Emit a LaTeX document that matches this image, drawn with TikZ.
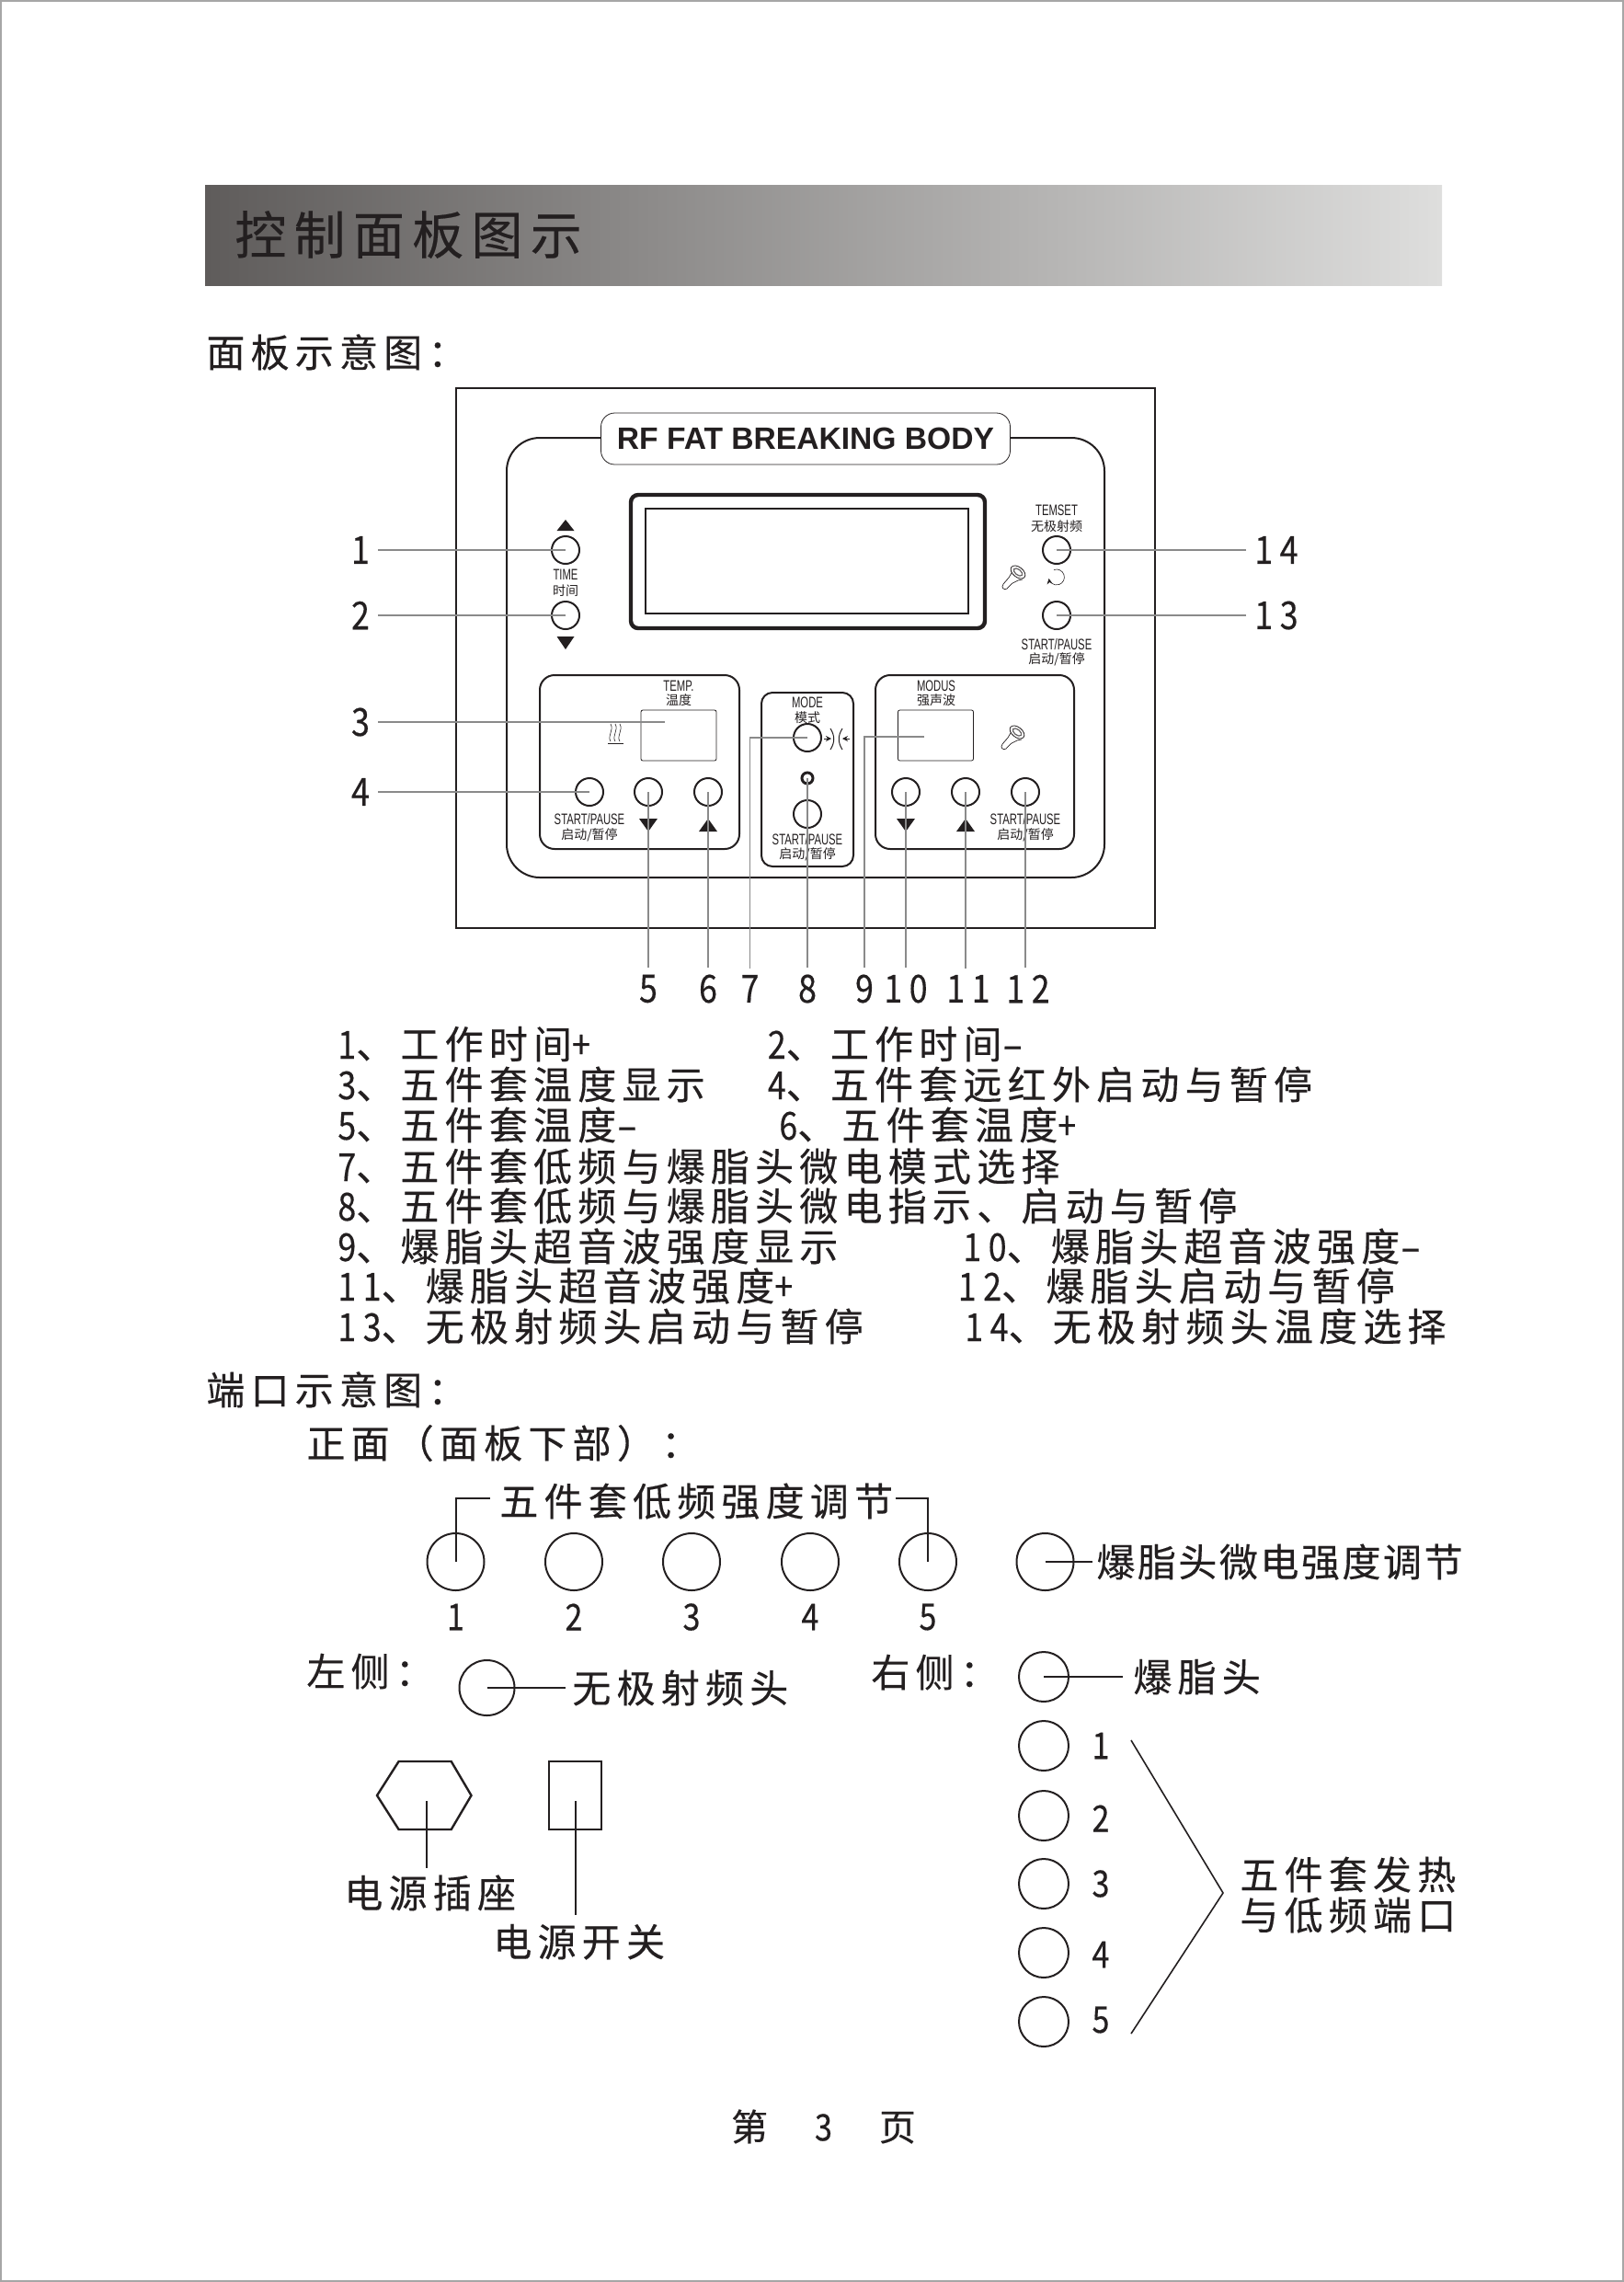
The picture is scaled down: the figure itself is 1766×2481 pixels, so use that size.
\documentclass[tikz,border=0pt]{standalone}
\usepackage{fontspec}
\usetikzlibrary{arrows.meta}
\setmainfont{Noto Sans CJK SC}
\newfontfamily\wide[LetterSpace=14.8,FakeBold=0.35]{Noto Sans CJK SC}
\newfontfamily\numfont[FakeStretch=0.85,LetterSpace=18,FakeBold=0.35]{Noto Sans CJK SC}
\newfontfamily\signfont[FakeStretch=1.6,FakeBold=0.35]{Noto Sans CJK SC}
\newfontfamily\narrow[FakeStretch=0.68]{Liberation Sans}
\newfontfamily\logofont{Liberation Sans}
\newcommand{\nr}[1]{{\numfont #1}}
\newcommand{\dsh}{{\signfont -}}
\definecolor{ink}{HTML}{231F20}
\definecolor{leader}{HTML}{8A8A8A}
\definecolor{barl}{HTML}{5F5C5B}
\definecolor{barr}{HTML}{DEDEDD}
\tikzset{
  btn/.style={draw,circle,line width=1pt,minimum size=15pt,inner sep=0pt},
  led/.style={draw,circle,line width=1.5pt,minimum size=6pt,inner sep=0pt},
  lcd/.style={draw,rectangle,rounded corners=1pt,line width=.4pt,minimum width=41pt,minimum height=27.5pt,inner sep=0pt},
  port/.style={draw,circle,line width=1pt,minimum size=31pt,inner sep=0pt},
  listtxt/.style={anchor=west,inner sep=0pt,text height=16pt,text depth=0pt,font=\wide\fontsize{21}{23}\selectfont},
  tighttxt/.style={listtxt,font=\wide\addfontfeature{LetterSpace=6}\fontsize{21}{23}\selectfont},
  numlab/.style={inner xsep=4.5pt,inner ysep=3.5pt,font=\numfont\fontsize{21}{23}\selectfont},
  smallnum/.style={inner sep=0pt,font=\numfont\fontsize{20}{22}\selectfont},
  latlab/.style={inner sep=0pt,font=\narrow\fontsize{8.3}{9}\selectfont},
  hanlab/.style={inner sep=0pt,font=\fontsize{7}{8}\selectfont},
  lead/.style={draw=leader,line width=.6pt},
  conn/.style={line width=1pt},
  icon/.style={line width=.3pt},
  wavetip/.style={icon,-{Stealth[length=3pt,width=3pt]}},
  probe/.pic={
    \draw[line width=.35pt] (0,-10) .. controls (-1,-5) and (-3,-2) .. (-5,1) -- (-11,8) .. controls (-14,12) and (-10,15) .. (-7,13) .. controls (-4,10) and (-2,7) .. (1,6) .. controls (4,4) and (7,3) .. (10,3);
    \draw[line width=.4pt,fill=white,rotate around={-38:(5,-5)}] (5,-5) ellipse (9 and 5.5);
    \draw[line width=.6pt,color=ink!70,rotate around={-38:(5,-5)}] (5,-5) ellipse (5.5 and 3);
  },
}
\begin{document}
\begin{tikzpicture}[x=0.5pt,y=-0.5pt,color=ink]
\useasboundingbox (0,0) rectangle (1766,2481);
\draw[color=gray!70,line width=1pt] (1,1) rectangle (1765,2480);
\shade[left color=barl,right color=barr] (223,201) rectangle (1568,310);
\node[anchor=west,inner sep=0pt,text height=21.3pt,text depth=0pt,font=\wide\fontsize{28}{30}\selectfont] (head) at (255,255) {控制面板图示};
\node[listtxt] (sec1) at (224,383) {面板示意图：};

\draw[line width=1.25pt] (496,422) rectangle (1256,1009);
\draw[line width=1pt,rounded corners=18pt] (551,476) rectangle (1201,954);
\node[draw,fill=white,rectangle,rounded corners=7.5pt,line width=.4pt,minimum width=222.5pt,minimum height=28pt,inner sep=0pt,font=\logofont\bfseries\fontsize{16.8}{18}\selectfont] (logo) at (876,477) {RF FAT BREAKING BODY};
\draw[line width=2.2pt,rounded corners=4pt] (686,538) rectangle (1071,683);
\draw[line width=.9pt] (702,553) rectangle (1053,667);

\node[btn] (b1) at (615,598) {};
\node[btn] (b2) at (615,669) {};
\fill (615,565) -- (605.5,577) -- (624.5,577) -- cycle;
\fill (615,706) -- (605.5,692) -- (624.5,692) -- cycle;
\node[latlab] (ltime) at (615,625) {TIME};
\node[hanlab] (htime) at (615,642) {时间};
\node[btn] (b14) at (1149,598) {};
\node[btn] (b13) at (1149,669) {};
\node[latlab] (ltem) at (1149,555) {TEMSET};
\node[hanlab] (htem) at (1149,572) {无极射频};
\node[latlab] (lsp13) at (1149,701) {START/PAUSE};
\node[hanlab] (hsp13) at (1149,717) {启动/暂停};
\draw[wavetip] (1146,619.5) arc (-110:170:8.5);
\pic at (1102,627) {probe};
\pic at (1101,801) {probe};

\draw[line width=1pt,rounded corners=8pt] (587,734) rectangle (804,923);
\node[lcd] (s3) at (738,799.5) {};
\node[latlab] (ltemp) at (738,746) {TEMP.};
\node[hanlab] (htemp) at (738,761) {温度};
\node[btn] (b4) at (641,861) {};
\node[btn] (b5) at (705,861) {};
\node[btn] (b6) at (770,861) {};
\node[latlab] (lsp4) at (641,891) {START/PAUSE};
\node[hanlab] (hsp4) at (641,908) {启动/暂停};
\fill (705,904) -- (695,890) -- (715,890) -- cycle;
\fill (770,890) -- (760,904) -- (780,904) -- cycle;
\draw[icon] (661,808) -- (678,808);
\draw[icon] (664,806) .. controls (660,800) and (668,794) .. (664,787);
\draw[icon] (669,806) .. controls (665,800) and (673,794) .. (669,787);
\draw[icon] (674,806) .. controls (670,800) and (678,794) .. (674,787);

\draw[line width=1pt,rounded corners=6pt] (828,753) rectangle (928,942);
\node[latlab] (lmode) at (878,764) {MODE};
\node[hanlab] (hmode) at (878,780) {模式};
\node[btn] (b7) at (878,802) {};
\node[led] (b8) at (878,846) {};
\node[btn] (b8b) at (878,885) {};
\node[latlab] (lsp8) at (878,913) {START/PAUSE};
\node[hanlab] (hsp8) at (878,929) {启动/暂停};
\draw[line width=.5pt] (903,792) .. controls (908,800) and (908,807) .. (903,815);
\draw[line width=.5pt] (916,792) .. controls (911,800) and (911,807) .. (916,815);
\draw[wavetip] (896,803) -- (904,803);
\draw[wavetip] (924,803) -- (916,803);

\draw[line width=1pt,rounded corners=8pt] (952,734) rectangle (1168,923);
\node[lcd] (s9) at (1017.5,799.5) {};
\node[latlab] (lmod) at (1018,746) {MODUS};
\node[hanlab] (hmod) at (1018,761) {强声波};
\node[btn] (b10) at (985,861) {};
\node[btn] (b11) at (1050,861) {};
\node[btn] (b12) at (1115,861) {};
\node[latlab] (lsp12) at (1115,891) {START/PAUSE};
\node[hanlab] (hsp12) at (1115,908) {启动/暂停};
\fill (985,904) -- (975,890) -- (995,890) -- cycle;
\fill (1050,890) -- (1040,904) -- (1060,904) -- cycle;

\node[numlab] (n1) at (392,598) {1};
\node[numlab] (n2) at (392,669) {2};
\node[numlab] (n3) at (392,785) {3};
\node[numlab] (n4) at (392,861) {4};
\node[numlab] (n14) at (1388,598) {14};
\node[numlab] (n13) at (1388,669) {13};
\node[numlab] (n5) at (705,1075) {5};
\node[numlab] (n6) at (770,1075) {6};
\node[numlab] (n7) at (815.5,1075) {7};
\node[numlab] (n8) at (878,1075) {8};
\node[numlab] (n9) at (940,1075) {9};
\node[numlab] (n10) at (985,1075) {10};
\node[numlab] (n11) at (1053,1075) {11};
\node[numlab] (n12) at (1118,1075) {12};
\coordinate (e3) at (723,785);
\coordinate (e9) at (1005,801);
\draw[lead] (n1) -- (b1.center);
\draw[lead] (n2) -- (b2.center);
\draw[lead] (n3) -- (e3);
\draw[lead] (n4) -- (b4.center);
\draw[lead] (n14) -- (b14.center);
\draw[lead] (n13) -- (b13.center);
\draw[lead] (b5.center) -- (n5.north);
\draw[lead] (b6.center) -- (n6.north);
\draw[lead] (b7.center) -| (n7.north);
\draw[lead] (b8.center) -- (n8.north);
\draw[lead] (e9) -| (n9.north);
\draw[lead] (b10.center) -- (b10.center |- n10.north);
\draw[lead] (b11.center) -- (b11.center |- n11.north);
\draw[lead] (b12.center) -- (b12.center |- n12.north);

\node[listtxt] (i1) at (367,1135) {\nr{1}、工作时间\nr{+}};
\node[listtxt] (i2) at (834.5,1135) {\nr{2}、工作时间\dsh};
\node[listtxt] (i3) at (367,1179) {\nr{3}、五件套温度显示};
\node[listtxt] (i4) at (834.5,1179) {\nr{4}、五件套远红外启动与暂停};
\node[listtxt] (i5) at (367,1223) {\nr{5}、五件套温度\dsh};
\node[listtxt] (i6) at (847,1223) {\nr{6}、五件套温度\nr{+}};
\node[listtxt] (i7) at (367,1268) {\nr{7}、五件套低频与爆脂头微电模式选择};
\node[listtxt] (i8) at (367,1311) {\nr{8}、五件套低频与爆脂头微电指示、启动与暂停};
\node[listtxt] (i9) at (367,1355) {\nr{9}、爆脂头超音波强度显示};
\node[listtxt] (i10) at (1047,1355) {\nr{10}、爆脂头超音波强度\dsh};
\node[listtxt] (i11) at (367,1398) {\nr{11}、爆脂头超音波强度\nr{+}};
\node[listtxt] (i12) at (1041.5,1398) {\nr{12}、爆脂头启动与暂停};
\node[listtxt] (i13) at (367,1442) {\nr{13}、无极射频头启动与暂停};
\node[listtxt] (i14) at (1049,1442) {\nr{14}、无极射频头温度选择};

\node[listtxt] (sec2) at (224,1511) {端口示意图：};
\node[listtxt] (sec3) at (333,1569) {正面（面板下部）：};
\node[listtxt] (t15) at (543,1632) {五件套低频强度调节};
\node[port] (p1) at (495.5,1698) {};
\node[port] (p2) at (624,1698) {};
\node[port] (p3) at (752,1698) {};
\node[port] (p4) at (881,1698) {};
\node[port] (p5) at (1009,1698) {};
\node[port] (p6) at (1136.5,1698) {};
\node[smallnum] (m1) at (495.5,1758) {1};
\node[smallnum] (m2) at (624,1758) {2};
\node[smallnum] (m3) at (752,1758) {3};
\node[smallnum] (m4) at (881,1758) {4};
\node[smallnum] (m5) at (1009,1758) {5};
\coordinate (c1) at (532.6,1629);
\coordinate (c5) at (973.5,1629);
\draw[conn] (p1.center) |- (c1);
\draw[conn] (p5.center) |- (c5);
\coordinate (c6) at (1188,1698);
\draw[conn] (p6.center) -- (c6);
\node[tighttxt] (t6) at (1192,1698) {爆脂头微电强度调节};

\node[listtxt] (sec4) at (333,1817) {左侧：};
\node[port,minimum size=30pt] (q1) at (529.5,1835) {};
\coordinate (c7) at (615,1835);
\draw[conn] (q1.center) -- (c7);
\node[listtxt] (t7) at (622,1835) {无极射频头};
\node[listtxt] (sec5) at (947,1818) {右侧：};
\node[port,minimum size=27pt] (r0) at (1135,1823) {};
\coordinate (c8) at (1221,1823);
\draw[conn] (r0.center) -- (c8);
\node[listtxt] (t8) at (1232,1823) {爆脂头};

\node[port,minimum size=27pt] (r1) at (1135,1898) {};
\node[port,minimum size=27pt] (r2) at (1135,1974) {};
\node[port,minimum size=27pt] (r3) at (1135,2048) {};
\node[port,minimum size=27pt] (r4) at (1135,2123) {};
\node[port,minimum size=27pt] (r5) at (1135,2198) {};
\node[smallnum] (k1) at (1197,1898) {1};
\node[smallnum] (k2) at (1197,1977) {2};
\node[smallnum] (k3) at (1197,2048) {3};
\node[smallnum] (k4) at (1197,2125) {4};
\node[smallnum] (k5) at (1197,2196) {5};
\coordinate (v1) at (1230,1892);
\coordinate (v2) at (1330,2058);
\coordinate (v3) at (1230,2211);
\draw[line width=.8pt] (v1) -- (v2) -- (v3);
\node[listtxt] (t9) at (1348,2038) {五件套发热};
\node[listtxt] (t10) at (1348,2082) {与低频端口};

\draw[line width=1.2pt] (433.6,1915) -- (490.7,1915) -- (512.5,1952) -- (490.7,1989) -- (433.6,1989) -- (410,1952) -- cycle;
\draw[line width=1.2pt] (597,1915) rectangle (654,1989);
\coordinate (h1) at (464,1958);
\coordinate (h2) at (464,2031);
\coordinate (h3) at (625.7,1958);
\coordinate (h4) at (625.7,2082);
\draw[line width=1.2pt] (h1) -- (h2);
\draw[line width=1.2pt] (h3) -- (h4);
\node[listtxt] (t11) at (374,2058) {电源插座};
\node[listtxt] (t12) at (536,2111) {电源开关};

\node[inner sep=0pt,font=\wide\fontsize{20}{22}\selectfont] (foot) at (895.5,2312) {第\hspace{25.5pt}\nr{3}\hspace{25.5pt}页};
\end{tikzpicture}
\end{document}
